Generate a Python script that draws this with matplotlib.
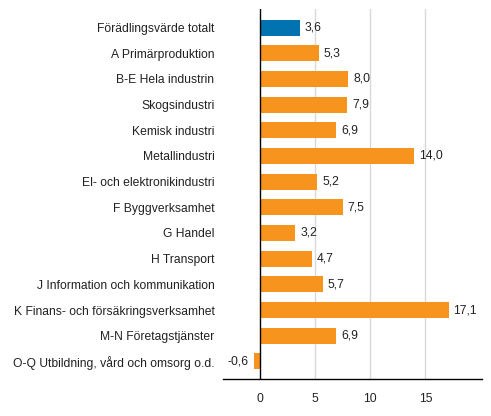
import matplotlib
matplotlib.use("Agg")
import matplotlib.pyplot as plt

categories = [
    "Förädlingsvärde totalt",
    "A Primärproduktion",
    "B-E Hela industrin",
    "Skogsindustri",
    "Kemisk industri",
    "Metallindustri",
    "El- och elektronikindustri",
    "F Byggverksamhet",
    "G Handel",
    "H Transport",
    "J Information och kommunikation",
    "K Finans- och försäkringsverksamhet",
    "M-N Företagstjänster",
    "O-Q Utbildning, vård och omsorg o.d.",
]
values = [3.6, 5.3, 8.0, 7.9, 6.9, 14.0, 5.2, 7.5, 3.2, 4.7, 5.7, 17.1, 6.9, -0.6]
xticks = [0, 5, 10, 15]

plt.rcParams['font.family'] = ['Liberation Sans', 'DejaVu Sans']
FS = 8.7

fig = plt.figure(figsize=(4.91, 4.16), dpi=100)
ax = fig.add_axes([0.4536, 0.0882, 0.981 - 0.4536, 0.978 - 0.0882])

colors = ["#0073b0"] + ["#f7941e"] * (len(values) - 1)
y = list(range(len(values)))
ax.barh(y, values, height=0.63, color=colors, zorder=3)

for yi, v in zip(y, values):
    label = f"{v:.1f}".replace(".", ",")
    if v >= 0:
        ax.annotate(label, (v, yi), xytext=(3.5, 0), textcoords="offset points",
                    ha="left", va="center", fontsize=FS, color="#222222")
    else:
        ax.annotate(label, (v, yi), xytext=(-4, 0), textcoords="offset points",
                    ha="right", va="center", fontsize=FS, color="#222222")

ax.set_xlim(-3.4, 20.1)
ax.set_ylim(13.7, -0.72)
ax.set_yticks(y)
ax.set_yticklabels(categories, fontsize=FS, color="#222222")
ax.set_xticks(xticks)
ax.set_xticklabels([str(t) for t in xticks], fontsize=FS, color="#222222")
ax.tick_params(axis="y", length=0, pad=6)
ax.tick_params(axis="x", length=0, pad=10)

for t in xticks[1:]:
    ax.axvline(t, color="#d9d9d9", linewidth=1, zorder=1)
ax.axvline(0, color="black", linewidth=1, zorder=4)

for s in ["top", "right", "left"]:
    ax.spines[s].set_visible(False)
ax.spines["bottom"].set_color("black")
ax.spines["bottom"].set_linewidth(1)

fig.savefig("out.png", dpi=100)
